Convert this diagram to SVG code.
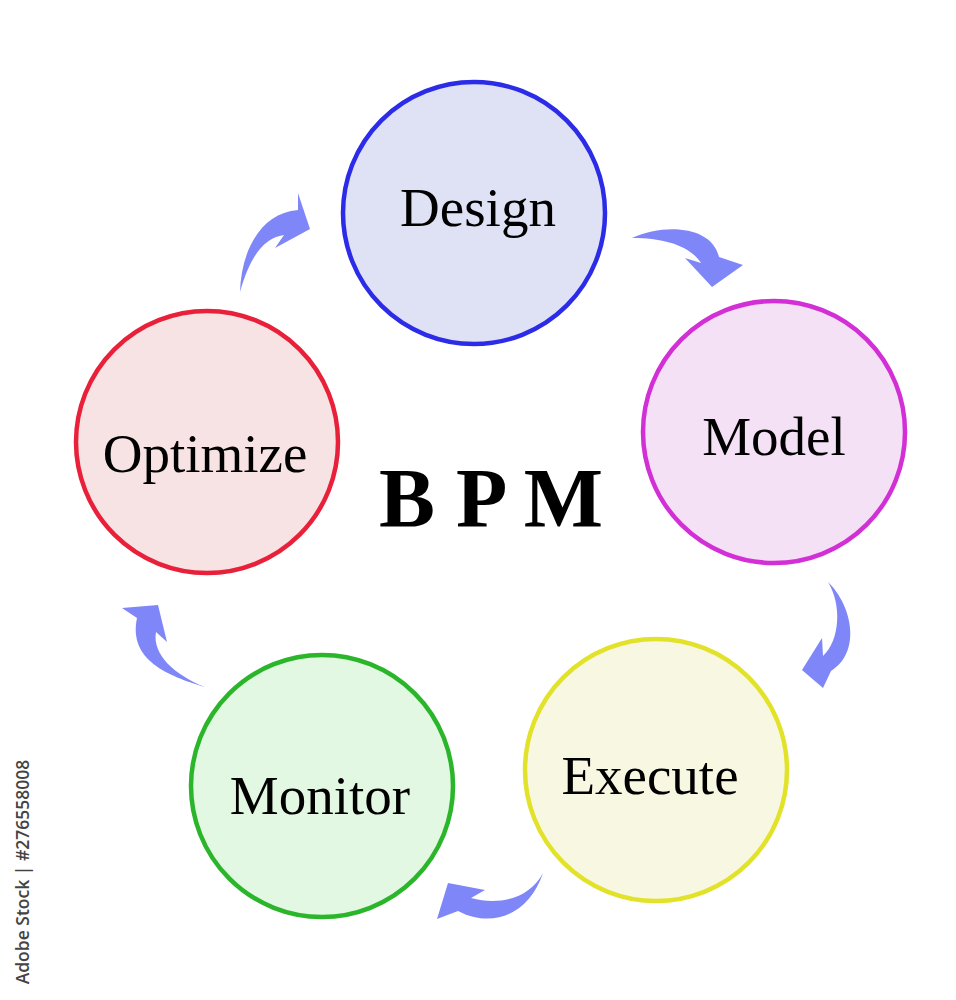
<svg xmlns="http://www.w3.org/2000/svg" width="956" height="1000" viewBox="0 0 956 1000">
<style>
.c{stroke-width:4.5}
.lbl{font-family:"Liberation Serif","Times New Roman",serif;font-size:55px;fill:#000;text-anchor:middle}
.arr{fill:#7f87f8}
</style>
<rect width="956" height="1000" fill="#ffffff"/>
<g id="connectors">
<path class="arr" d="M240,292 C241,252 260,213 298,210 L298,193 L310,229 L275,248 L284,235 C262,238 249,260 240,292 Z"/>
<path class="arr" d="M632,238 C665,223 712,226 719,257 L743,265 L712,287 L685,258 L701,263 C690,246 665,238 632,238 Z"/>
<path class="arr" d="M828,582 C852,605 862,652 831,671 L823,688 L802,670 L822,638 L823,656 C840,640 842,605 828,582 Z"/>
<path class="arr" d="M543,873 C530,912 495,930 458,911 L437,919 L448,883 L485,890 L471,898 C500,906 530,898 543,873 Z"/>
<path class="arr" d="M205,687 C168,676 128,660 137,618 L122,608 L158,605 L167,642 L156,632 C152,655 175,675 205,687 Z"/>
</g>
<g id="design">
<circle class="c" cx="474" cy="213" r="131" fill="#dfe1f5" stroke="#2b2be8"/>
<text class="lbl" x="478" y="226">Design</text>
</g>
<g id="model">
<circle class="c" cx="774" cy="432" r="131" fill="#f5e1f5" stroke="#d22fd6"/>
<text class="lbl" x="774" y="455">Model</text>
</g>
<g id="execute">
<circle class="c" cx="656" cy="770" r="131" fill="#f8f8e2" stroke="#e2e22a"/>
<text class="lbl" x="650" y="794">Execute</text>
</g>
<g id="monitor">
<circle class="c" cx="322" cy="786" r="131" fill="#e2f8e2" stroke="#2ab52a"/>
<text class="lbl" x="320" y="814">Monitor</text>
</g>
<g id="optimize">
<circle class="c" cx="207" cy="442" r="131" fill="#f7e3e3" stroke="#e8203a"/>
<text class="lbl" x="205" y="472">Optimize</text>
</g>
<g id="title">
<text x="491" y="527" font-family="Liberation Serif, 'Times New Roman', serif" font-size="84" font-weight="bold" text-anchor="middle" fill="#000">B P M</text>
</g>
<text x="0" y="0" transform="translate(29,872) rotate(-90)" font-family="'Open Sans', 'Liberation Sans', sans-serif" font-size="17.5" font-weight="600" fill="#444" text-anchor="middle">Adobe Stock | #276558008</text>
</svg>
